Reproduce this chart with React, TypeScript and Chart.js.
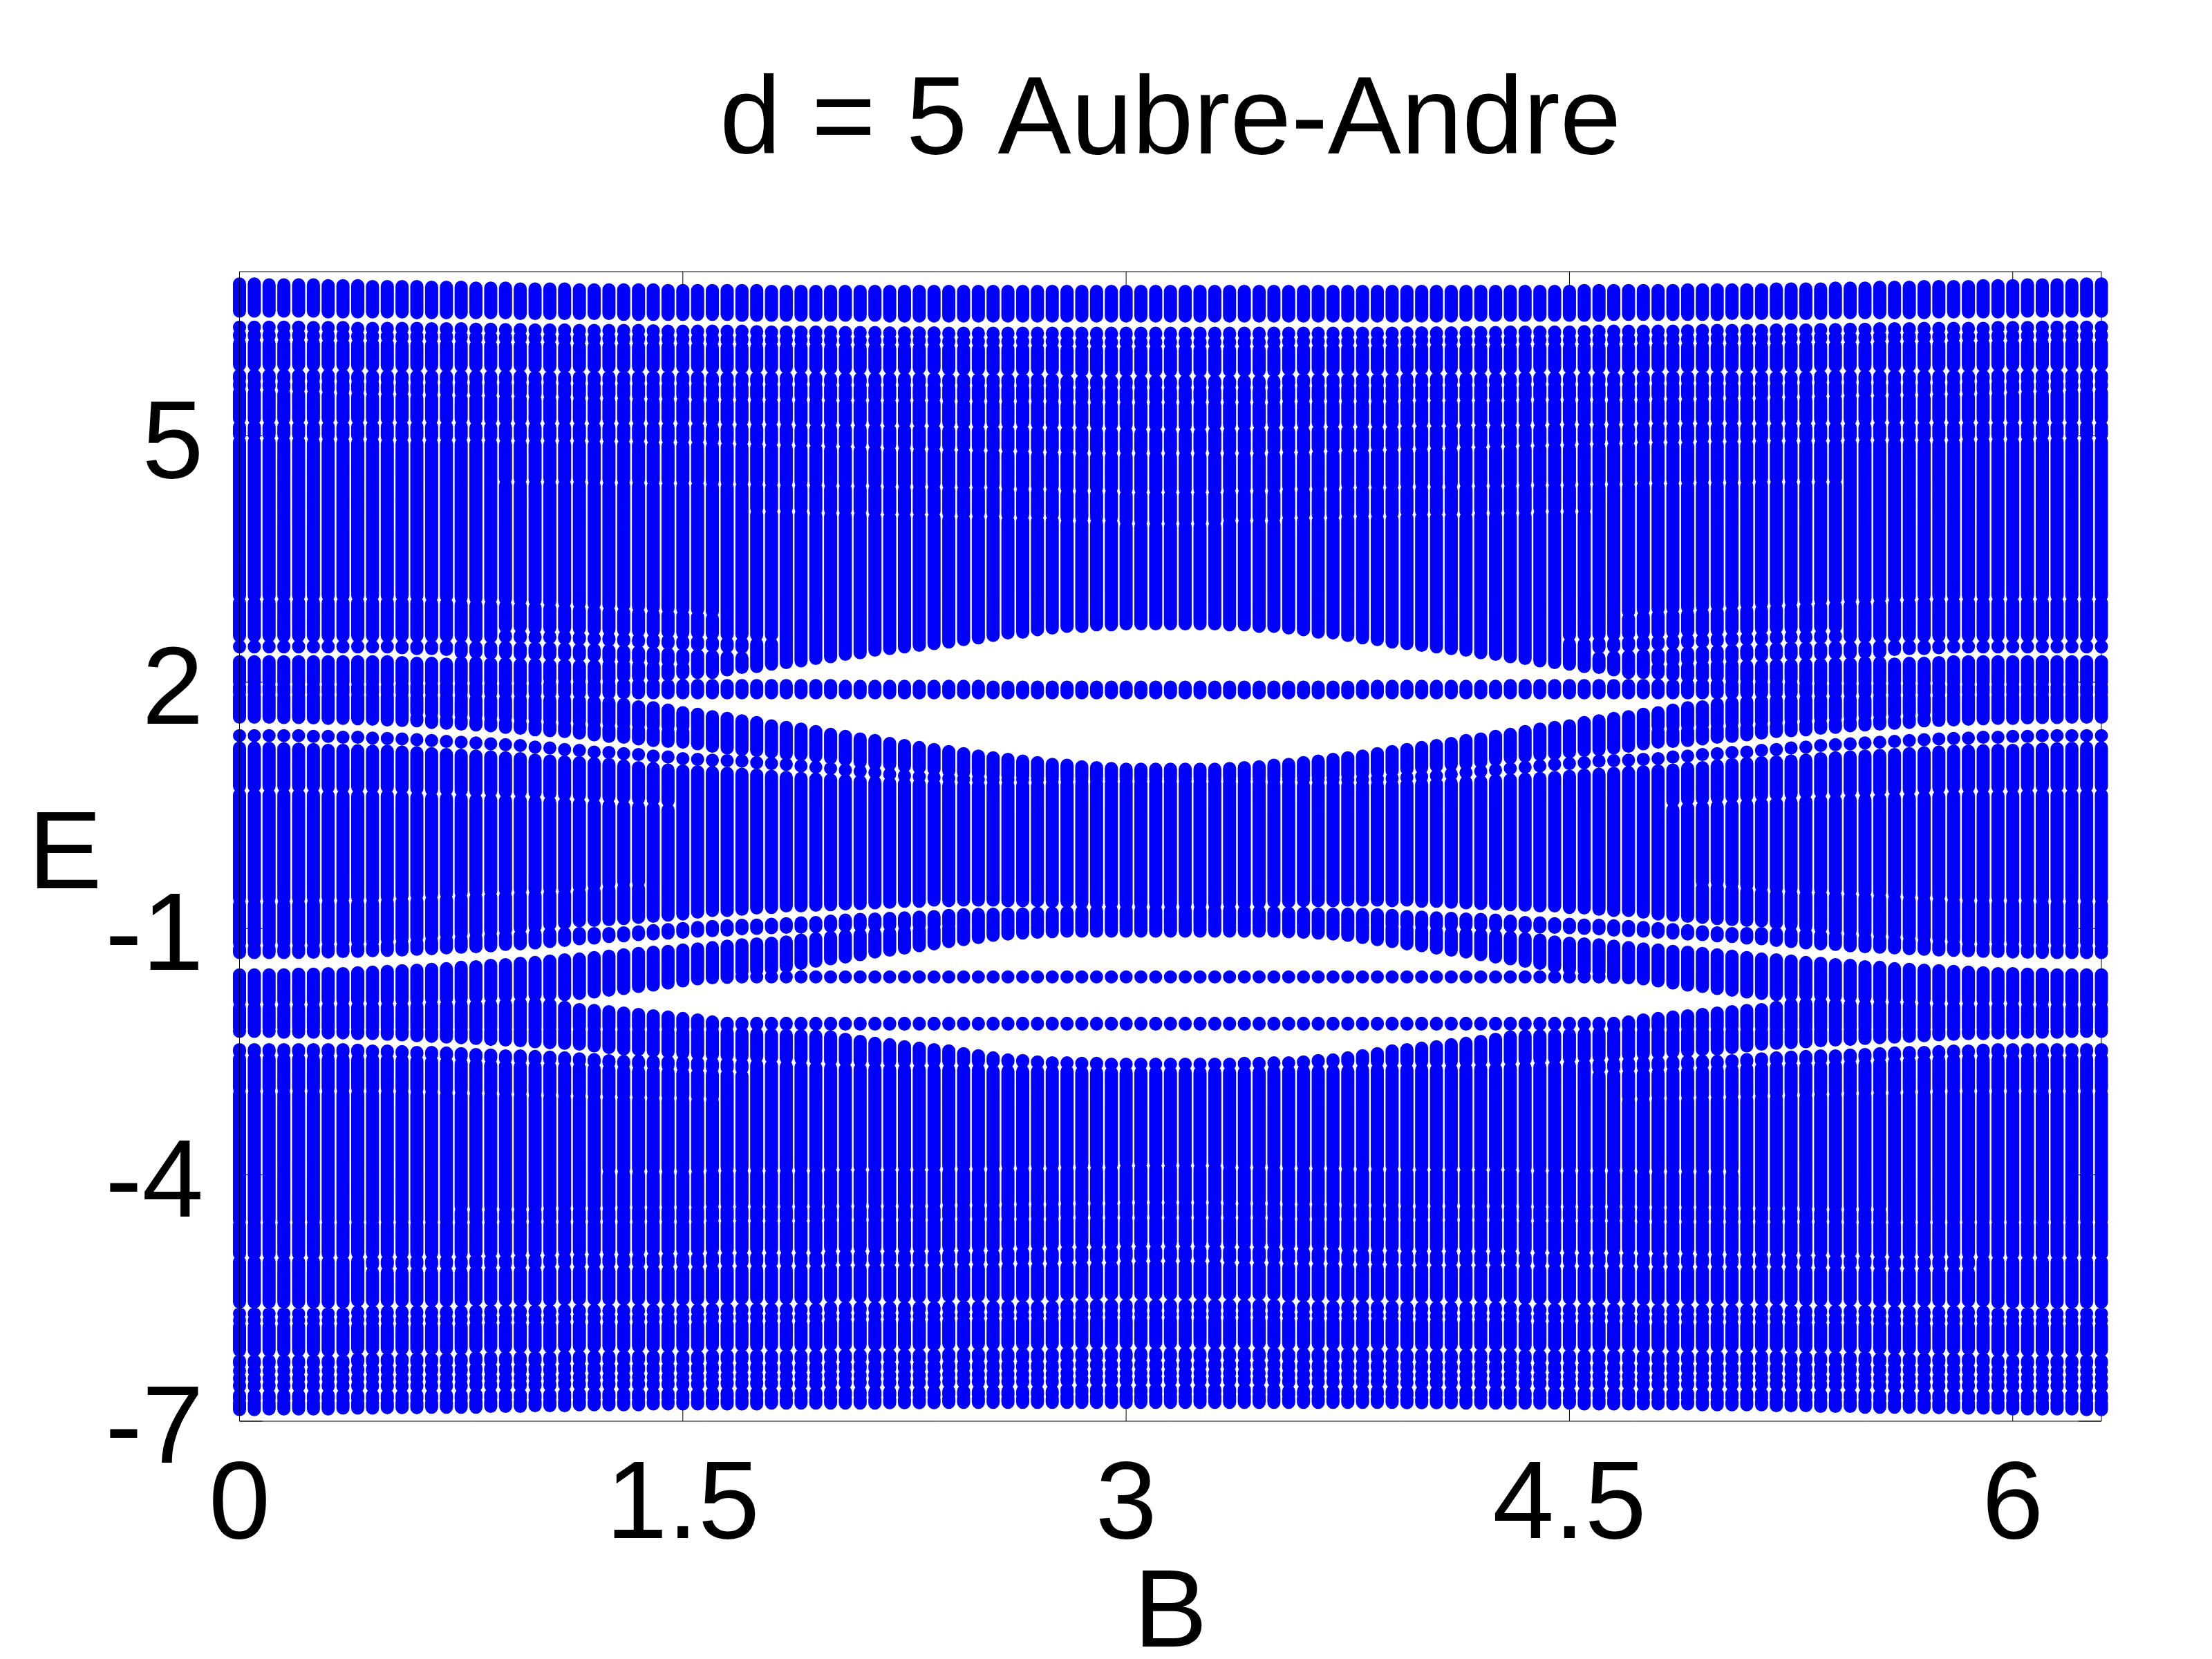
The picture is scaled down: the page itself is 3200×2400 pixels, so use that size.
import React, { useEffect, useRef } from "react";
import { Chart, registerables } from "chart.js";

Chart.register(...registerables);

const chartTitle = "d = 5 Aubre-Andre";
const xLabel = "B";
const yLabel = "E";
const xTicks = [0, 1.5, 3, 4.5, 6];
const yTicks = [5, 2, -1, -4, -7];

const bValues = [
  0,.05,.1,.15,.2,.25,.3,.35,.4,.45,.5,.55,.6,.65,.7,.75,.8,.85,.9,.95,
  1,1.05,1.1,1.15,1.2,1.25,1.3,1.35,1.4,1.45,1.5,1.55,1.6,1.65,1.7,1.75,1.8,1.85,1.9,1.95,
  2,2.05,2.1,2.15,2.2,2.25,2.3,2.35,2.4,2.45,2.5,2.55,2.6,2.65,2.7,2.75,2.8,2.85,2.9,2.95,
  3,3.05,3.1,3.15,3.2,3.25,3.3,3.35,3.4,3.45,3.5,3.55,3.6,3.65,3.7,3.75,3.8,3.85,3.9,3.95,
  4,4.05,4.1,4.15,4.2,4.25,4.3,4.35,4.4,4.45,4.5,4.55,4.6,4.65,4.7,4.75,4.8,4.85,4.9,4.95,
  5,5.05,5.1,5.15,5.2,5.25,5.3,5.35,5.4,5.45,5.5,5.55,5.6,5.65,5.7,5.75,5.8,5.85,5.9,5.95,
  6,6.05,6.1,6.15,6.2,6.25,6.3,
];

// Energies for B = 0 ... 3.15 (the spectrum is mirrored about B = pi).
// Each array has 64 values, 16 per row. null: that feature is not visible in that column.
const _ = null;

const t1Top = [
  6.85,6.85,6.84,6.84,6.84,6.84,6.83,6.83,6.83,6.82,6.82,6.82,6.82,6.81,6.81,6.81,
  6.80,6.80,6.80,6.79,6.79,6.79,6.79,6.78,6.78,6.78,6.78,6.78,6.78,6.77,6.77,6.77,
  6.77,6.77,6.77,6.77,6.76,6.76,6.76,6.76,6.76,6.76,6.76,6.76,6.76,6.76,6.76,6.76,
  6.76,6.76,6.76,6.76,6.76,6.76,6.76,6.76,6.76,6.76,6.76,6.76,6.76,6.76,6.76,6.76,
];
const t1Bot = [
  6.52,6.52,6.52,6.52,6.52,6.52,6.51,6.51,6.51,6.51,6.51,6.51,6.50,6.50,6.50,6.50,
  6.50,6.50,6.50,6.49,6.49,6.49,6.49,6.49,6.49,6.49,6.48,6.48,6.48,6.48,6.48,6.48,
  6.48,6.48,6.47,6.47,6.47,6.47,6.47,6.47,6.47,6.47,6.47,6.47,6.46,6.46,6.46,6.46,
  6.46,6.46,6.46,6.46,6.46,6.46,6.46,6.46,6.46,6.46,6.46,6.46,6.46,6.46,6.46,6.46,
];
const t2Top = [
  6.32,6.32,6.32,6.32,6.32,6.32,6.32,6.32,6.31,6.31,6.31,6.31,6.31,6.30,6.30,6.30,
  6.30,6.30,6.29,6.29,6.29,6.29,6.29,6.28,6.28,6.28,6.28,6.28,6.28,6.27,6.27,6.27,
  6.27,6.27,6.27,6.27,6.26,6.26,6.26,6.26,6.26,6.26,6.26,6.26,6.25,6.25,6.25,6.25,
  6.25,6.25,6.25,6.25,6.25,6.25,6.25,6.25,6.25,6.25,6.25,6.25,6.25,6.25,6.25,6.25,
];
const n1 = [
  6.28,6.28,6.28,6.28,6.28,6.27,6.27,6.27,6.26,6.26,6.26,6.26,6.26,6.26,6.26,6.26,
  6.25,6.25,6.25,6.25,6.24,6.24,6.24,6.24,6.24,6.24,6.24,6.24,6.23,6.23,6.23,6.23,
  6.23,6.23,6.23,6.22,6.22,6.22,6.22,6.22,6.22,6.21,6.21,6.21,6.21,6.21,6.21,6.21,
  6.20,6.20,6.20,6.20,6.20,6.20,6.20,6.20,6.19,6.19,6.19,6.19,6.19,6.19,6.19,6.19,
];
const n2 = [
  6.17,6.17,6.17,6.17,6.17,6.17,6.16,6.16,6.16,6.16,6.16,6.15,6.15,6.15,6.15,6.15,
  6.14,6.14,6.14,6.14,6.14,6.14,6.13,6.13,6.13,6.13,6.13,6.13,6.13,6.13,6.13,6.13,
  6.12,6.12,6.12,6.12,6.12,6.12,6.12,6.12,6.11,6.11,6.11,6.11,6.11,6.11,6.11,6.11,
  6.10,6.10,6.10,6.10,6.10,6.10,6.10,6.10,6.09,6.09,6.09,6.09,6.09,6.09,6.09,6.09,
];
const n3 = [
  5.80,5.80,5.80,5.80,5.80,5.80,5.80,5.80,5.79,5.79,5.79,5.79,5.79,5.79,5.79,5.79,
  5.79,5.79,5.79,5.79,5.78,5.78,5.78,5.78,5.78,5.78,5.78,5.78,5.78,5.78,5.78,5.78,
  5.77,5.77,5.77,5.77,5.77,5.77,5.77,5.77,5.76,5.76,5.76,5.76,5.76,5.76,5.76,5.76,
  5.75,5.75,5.75,5.75,5.75,5.75,5.75,5.75,5.73,5.73,5.73,5.73,5.73,5.73,5.73,5.73,
];
const n4 = [
  5.66,5.66,5.66,5.66,5.66,5.66,5.66,5.66,5.66,5.66,5.65,5.65,5.65,5.65,5.65,5.65,
  5.65,5.65,5.65,5.65,5.65,5.65,5.64,5.64,5.64,5.64,5.64,5.64,5.64,5.64,5.64,5.64,
  5.63,5.63,5.63,5.63,5.63,5.63,5.63,5.63,5.62,5.62,5.62,5.62,5.62,5.62,5.62,5.62,
  5.61,5.61,5.61,5.61,5.61,5.61,5.61,5.61,5.59,5.59,5.59,5.59,5.59,5.59,5.59,5.59,
];
const n5 = [
  5.57,5.56,5.56,5.55,5.54,5.54,5.53,5.52,5.52,5.51,5.51,5.51,5.50,5.50,5.50,5.49,
  5.49,5.49,5.48,5.48,5.47,5.47,5.47,5.46,5.46,5.46,5.46,5.45,5.45,5.45,5.45,5.44,
  5.44,5.44,5.44,5.44,5.44,5.44,5.44,5.44,5.43,5.43,5.43,5.43,5.43,5.43,5.43,5.43,
  5.42,5.42,5.42,5.42,5.42,5.42,5.42,5.42,5.41,5.41,5.41,5.41,5.41,5.41,5.41,5.41,
];
const n6 = [
  5.16,5.16,5.16,5.16,5.16,5.16,5.16,5.16,5.16,5.16,5.16,5.16,5.16,5.16,5.16,5.16,
  5.15,5.15,5.15,5.15,5.15,5.15,5.15,5.15,5.15,5.15,5.15,5.15,5.15,5.15,5.15,5.15,
  5.14,5.14,5.14,5.14,5.14,5.14,5.13,5.13,5.13,5.13,5.13,5.13,5.12,5.12,5.12,5.12,
  5.11,5.11,5.11,5.11,5.11,5.11,5.10,5.10,5.10,5.10,5.09,5.09,5.09,5.08,5.08,5.08,
];
const n7 = [
  4.97,4.97,4.97,4.97,4.97,4.96,4.96,4.96,4.96,4.96,4.95,4.95,4.95,4.95,4.95,4.95,
  4.95,4.95,4.94,4.94,4.94,4.94,4.94,4.94,4.93,4.93,4.93,4.93,4.92,4.92,4.92,4.92,
  4.91,4.91,4.90,4.90,4.89,4.89,4.88,4.88,4.87,4.87,4.86,4.86,4.85,4.85,4.84,4.84,
  4.83,4.83,4.82,4.82,4.81,4.81,4.80,4.80,4.80,4.79,4.79,4.79,4.79,4.79,4.79,4.79,
];
const n8 = [
  _,_,_,_,_,_,_,_,_,_,_,_,_,_,_,_,
  _,_,4.44,4.44,4.44,4.44,4.44,4.44,4.43,4.43,4.43,4.43,4.42,4.42,4.42,4.42,
  4.41,4.41,4.41,4.41,4.40,4.40,4.40,4.40,4.39,4.39,4.39,4.39,4.38,4.38,4.38,4.38,
  4.37,4.37,4.37,4.37,4.35,4.35,4.35,4.35,4.33,4.33,4.33,4.33,4.31,4.31,4.31,4.31,
];
const n9 = [
  _,_,_,_,_,_,_,_,_,_,_,_,_,_,_,_,
  _,_,_,_,_,_,_,_,_,_,_,_,_,_,_,_,
  _,_,_,4.08,4.08,4.08,4.08,4.06,4.06,4.06,4.06,4.04,4.04,4.04,4.04,4.04,
  4.02,4.02,4.02,4.02,4.00,4.00,4.00,4.00,3.97,3.97,3.97,3.97,3.93,3.93,3.93,3.93,
];
const n10 = [
  3.01,3.01,3.01,3.01,3.01,3.01,3.01,3.01,3.01,3.01,3.01,3.01,3.01,3.00,3.00,2.99,
  2.98,2.98,2.97,2.96,2.95,2.94,2.93,2.92,2.91,2.90,2.89,2.88,2.87,2.86,2.85,2.84,
  2.82,_,_,_,_,_,_,_,_,_,_,_,_,_,_,_,
  _,_,_,_,_,_,_,_,_,_,_,_,_,_,_,_,
];
const n10b = [
  _,_,_,_,_,_,_,_,_,_,_,_,_,_,_,_,
  _,_,2.62,2.62,2.61,2.61,2.61,2.60,2.59,2.59,2.58,2.57,2.57,2.56,2.55,2.55,
  2.54,2.53,2.53,2.52,2.52,_,_,_,_,_,_,_,_,_,_,_,
  _,_,_,_,_,_,_,_,_,_,_,_,_,_,_,_,
];
const n11 = [
  2.50,2.50,2.50,2.50,2.50,2.50,2.50,2.50,2.50,2.50,2.50,2.50,2.50,2.50,2.50,2.50,
  2.49,2.49,2.49,2.48,2.48,2.48,2.47,2.46,2.46,2.45,2.44,2.43,2.42,2.41,2.40,2.39,
  2.38,2.37,2.36,_,_,_,_,_,_,_,_,_,_,_,_,_,
  _,_,_,_,_,_,_,_,_,_,_,_,_,_,_,_,
];
const n12 = [
  2.34,2.34,2.34,2.34,2.34,2.34,2.34,2.34,2.34,2.34,2.34,2.33,2.32,2.32,2.31,_,
  _,_,_,_,_,_,_,_,_,_,_,_,_,_,_,_,
  _,_,_,_,_,_,_,_,_,_,_,_,_,_,_,_,
  _,_,_,_,_,_,_,_,_,_,_,_,_,_,_,_,
];
const n12m = [
  _,_,_,_,_,_,_,_,_,_,_,_,_,_,_,2.30,
  2.30,2.29,2.29,2.28,2.28,2.27,2.27,2.26,2.26,_,_,_,_,_,_,_,
  _,_,_,_,_,_,_,_,_,_,_,_,_,_,_,_,
  _,_,_,_,_,_,_,_,_,_,_,_,_,_,_,_,
];
const n12b = [
  _,_,_,_,_,_,_,_,_,_,_,_,_,_,_,_,
  _,_,_,_,_,_,_,_,_,2.25,2.25,2.24,2.23,2.22,2.22,_,
  _,_,_,_,_,_,_,_,_,_,_,_,_,_,_,_,
  _,_,_,_,_,_,_,_,_,_,_,_,_,_,_,_,
];
const g1Bot = [
  2.00,2.00,2.00,2.00,2.00,2.00,2.00,2.00,2.00,2.00,2.00,2.01,2.01,2.01,2.01,2.01,
  2.01,2.01,2.01,2.01,2.01,2.04,2.04,2.04,2.04,2.04,2.07,2.07,2.07,2.09,2.11,2.12,
  2.12,2.15,2.18,2.19,2.22,2.24,2.26,2.29,2.31,2.34,2.36,2.39,2.41,2.43,2.45,2.47,
  2.49,2.52,2.54,2.57,2.60,2.61,2.64,2.66,2.68,2.68,2.70,2.70,2.71,2.71,2.71,2.71,
];
const lobeTop = [
  1.95,1.95,1.95,1.95,1.95,1.95,1.95,1.95,1.95,1.95,1.95,1.96,1.96,1.96,1.96,1.96,
  1.96,1.96,1.96,1.96,1.96,1.97,1.97,1.97,1.97,1.97,1.97,1.97,1.97,1.96,1.96,1.96,
  1.96,1.96,1.96,1.96,1.96,1.96,1.96,1.96,1.96,1.95,1.95,1.95,1.95,1.95,1.95,1.95,
  1.95,1.95,1.95,1.94,1.94,1.94,1.94,1.94,1.94,1.94,1.94,1.94,1.94,1.94,1.94,1.94,
];
const lobeBot = [
  1.87,1.87,1.87,1.87,1.87,1.87,1.87,1.87,1.87,1.87,1.87,1.87,1.87,1.87,1.87,1.87,
  1.87,1.87,1.87,1.87,1.87,1.87,1.87,1.87,1.87,1.87,1.87,1.87,1.87,1.87,1.87,1.87,
  1.87,1.87,1.87,1.87,1.87,1.87,1.87,1.87,1.87,1.87,1.87,1.87,1.87,1.87,1.87,1.87,
  1.87,1.87,1.87,1.87,1.87,1.87,1.87,1.87,1.87,1.87,1.87,1.87,1.87,1.87,1.87,1.87,
];
const c3Top = [
  1.82,1.82,1.82,1.82,1.82,1.82,1.82,1.82,1.82,1.82,1.82,1.81,1.81,1.81,1.81,1.81,
  1.79,1.79,1.79,1.79,1.79,1.78,1.78,1.77,1.76,1.75,1.73,1.70,1.69,1.66,1.63,1.61,
  1.58,1.56,1.53,1.51,1.47,1.45,1.43,1.40,1.365,1.34,1.31,1.29,1.255,1.23,1.205,1.18,
  1.155,1.13,1.10,1.08,1.06,1.04,1.02,1.00,.99,.97,.96,.95,.94,.94,.94,.94,
];
const n14 = [
  _,_,_,_,_,_,_,_,_,_,_,_,1.60,1.59,1.58,1.57,
  1.56,1.55,1.54,1.53,1.52,1.51,1.50,1.49,1.48,1.47,1.46,1.45,1.44,1.43,1.43,_,
  _,_,_,_,_,_,_,_,_,_,_,_,_,_,_,_,
  _,_,_,_,_,_,_,_,_,_,_,_,_,_,_,_,
];
const eA = [
  1.575,1.575,1.575,1.57,1.57,1.565,1.56,1.56,1.555,1.55,1.54,1.535,1.53,1.51,1.50,1.49,
  1.48,1.47,1.45,1.44,1.42,1.41,1.40,1.38,1.36,1.34,1.33,1.31,1.29,1.28,1.27,1.25,
  1.22,1.20,1.18,1.17,1.15,1.13,1.12,1.10,1.08,1.06,1.03,1.01,1.00,.98,.96,.94,
  .92,.905,.89,.87,.86,.855,.85,.84,.84,.84,.84,.84,.84,.84,.84,.84,
];
const eB = [
  1.35,1.35,1.35,1.35,1.35,1.34,1.34,1.33,1.33,1.32,1.315,1.31,1.30,1.29,1.28,1.27,
  1.26,1.25,1.24,1.23,1.21,1.20,1.18,1.17,1.15,1.145,1.13,1.12,1.10,1.09,1.07,1.06,
  1.05,1.045,1.04,1.02,1.01,1.00,.98,.965,.95,.93,.915,.90,.88,.86,.85,.84,
  .83,.82,.815,.815,.815,.815,.815,.815,.815,.815,.815,.815,.815,.815,.815,.815,
];
const eC = [
  1.20,1.20,1.195,1.19,1.185,1.18,1.17,1.17,1.165,1.16,1.16,1.15,1.14,1.13,1.12,1.11,
  1.10,1.09,1.08,1.07,1.05,1.04,1.03,1.02,1.01,1.00,.98,.96,.95,.93,.92,.91,
  .90,.89,.88,.87,.855,.84,.83,.82,.81,.80,.79,.78,.77,.76,.755,.75,
  .745,.74,.735,.74,.74,.74,.74,.75,.75,.76,.76,.77,.77,.77,.77,.77,
];
const n15 = [
  .68,.68,.68,.68,.68,.68,.67,.67,.67,.67,.67,.66,.65,.64,.64,.63,
  .62,.62,.61,.61,.60,.59,.58,.57,.56,.55,.54,.53,.52,.50,_,_,
  _,_,_,_,_,_,_,_,_,_,_,_,_,_,_,_,
  _,_,_,_,_,_,_,_,_,_,_,_,_,_,_,_,
];
const n18 = [
  -.67,-.67,-.67,-.67,-.67,-.66,-.66,-.66,-.66,-.66,-.65,-.64,-.63,-.62,-.61,-.60,
  -.59,-.58,-.57,-.56,-.56,-.55,-.55,-.53,-.51,-.49,-.47,-.47,_,_,_,_,
  _,_,_,_,_,_,_,_,_,_,_,_,_,_,_,_,
  _,_,_,_,_,_,_,_,_,_,_,_,_,_,_,_,
];
const stemEnd = [
  -1.178,-1.17,-1.17,-1.17,-1.17,-1.17,-1.153,-1.153,-1.153,-1.153,-1.127,-1.119,-1.102,-1.085,-1.068,-1.06,
  -1.043,-1.026,-1.018,-.992,-.975,-.95,-.933,-.906,-.90,-.891,-.877,-.864,-.85,-.835,-.822,-.80,
  -.78,-.78,-.765,-.75,-.743,-.724,-.724,-.715,-.71,-.70,-.695,-.687,-.68,-.667,-.667,-.653,
  -.66,-.653,-.652,-.652,-.66,-.66,-.66,-.67,-.67,-.68,-.69,-.69,-.695,-.695,-.695,-.695,
];
const circleTop = [
  -1.253,-1.245,-1.245,-1.245,-1.245,-1.245,-1.228,-1.228,-1.228,-1.228,-1.203,-1.195,-1.178,-1.161,-1.144,-1.136,
  -1.119,-1.102,-1.094,-1.085,-1.068,-1.06,-1.06,-1.06,-1.06,-1.06,-1.052,-1.04,-1.026,-1.012,-1.0,-.987,
  -.975,-.967,-.96,-.958,-.948,-.94,-.93,-.925,-.91,-.897,-.888,-.883,-.875,-.87,-.86,-.855,
  -.84,-.832,-.828,-.826,-.825,-.822,-.815,-.813,-.803,-.795,-.786,-.778,-.778,-.778,-.778,-.778,
];
const eAp = [
  -1.293,-1.293,-1.293,-1.293,-1.29,-1.288,-1.285,-1.28,-1.277,-1.27,-1.265,-1.26,-1.253,-1.245,-1.236,-1.228,
  -1.22,-1.211,-1.194,-1.186,-1.175,-1.158,-1.144,-1.124,-1.116,-1.096,-1.088,-1.074,-1.066,-1.054,-1.045,-1.032,
  -1.026,-1.018,-1.003,-.998,-.99,-.984,-.98,-.975,-.971,-.967,-.963,-.96,-.957,-.955,-.955,-.955,
  -.955,-.955,-.955,-.955,-.955,-.955,-.955,-.955,-.955,-.955,-.955,-.955,-.955,-.955,-.955,-.955,
];
const eBp = [
  -1.564,-1.564,-1.564,-1.564,-1.556,-1.556,-1.548,-1.548,-1.539,-1.531,-1.522,-1.514,-1.506,-1.497,-1.489,-1.472,
  -1.464,-1.447,-1.439,-1.422,-1.413,-1.396,-1.38,-1.371,-1.354,-1.337,-1.32,-1.303,-1.287,-1.278,-1.261,-1.248,
  -1.232,-1.215,-1.198,-1.186,-1.178,-1.163,-1.14,-1.123,-1.106,-1.089,-1.077,-1.064,-1.056,-1.039,-1.022,-1.005,
  -.988,-.971,-.971,-.971,-.971,-.971,-.971,-.971,-.971,-.971,-.971,-.971,-.971,-.971,-.971,-.971,
];
const gZUp = [
  -1.73,-1.73,-1.73,-1.73,-1.73,-1.73,-1.73,-1.73,-1.73,-1.73,-1.73,-1.73,-1.73,-1.73,-1.73,-1.73,
  -1.73,-1.73,-1.73,-1.73,-1.73,-1.645,-1.645,-1.645,-1.645,-1.645,-1.645,-1.645,-1.645,-1.476,-1.476,-1.476,
  -1.476,-1.476,-1.527,-1.51,-1.493,-1.46,-1.424,-1.397,-1.369,-1.346,-1.318,-1.285,-1.262,-1.237,-1.209,-1.186,
  -1.158,-1.135,-1.11,-1.082,-1.066,-1.054,-1.045,-1.037,-1.032,-1.032,-1.032,-1.032,-1.032,-1.032,-1.032,-1.032,
];
const gZDown = [
  -1.73,-1.73,-1.73,-1.73,-1.73,-1.73,-1.73,-1.73,-1.73,-1.73,-1.73,-1.73,-1.73,-1.73,-1.73,-1.73,
  -1.73,-1.73,-1.73,-1.73,-1.73,-1.645,-1.645,-1.645,-1.645,-1.645,-1.645,-1.645,-1.645,-1.476,-1.476,-1.476,
  -1.476,-1.476,-1.589,-1.589,-1.589,-1.589,-1.589,-1.589,-1.589,-1.589,-1.589,-1.589,-1.589,-1.589,-1.589,-1.589,
  -1.589,-1.589,-1.589,-1.589,-1.589,-1.589,-1.589,-1.589,-1.589,-1.589,-1.589,-1.589,-1.589,-1.589,-1.589,-1.589,
];
const gNUp = [
  -1.881,-1.881,-1.881,-1.881,-1.881,-1.881,-1.872,-1.872,-1.872,-1.872,-1.872,-1.872,-1.864,-1.855,-1.855,-1.847,
  -1.838,-1.83,-1.822,-1.813,-1.809,-1.805,-1.803,-1.79,-1.773,-1.75,-1.73,-1.705,-1.688,-1.663,-1.638,-1.613,
  -1.60,-1.593,-1.589,-1.589,-1.589,-1.589,-1.589,-1.589,-1.589,-1.589,-1.589,-1.589,-1.589,-1.589,-1.589,-1.589,
  -1.589,-1.589,-1.589,-1.589,-1.589,-1.589,-1.589,-1.589,-1.589,-1.589,-1.589,-1.589,-1.589,-1.589,-1.589,-1.589,
];
const gNLow = [
  -1.965,-1.965,-1.965,-1.965,-1.965,-1.965,-1.956,-1.956,-1.956,-1.956,-1.956,-1.956,-1.948,-1.939,-1.939,-1.931,
  -1.939,-1.931,-1.923,-1.91,-1.915,-1.925,-1.96,-1.986,-1.998,-2.011,-2.028,-2.045,-2.062,-2.078,-2.095,-2.112,
  -2.137,-2.154,-2.154,-2.154,-2.154,-2.154,-2.154,-2.154,-2.154,-2.154,-2.154,-2.154,-2.154,-2.154,-2.154,-2.154,
  -2.154,-2.154,-2.154,-2.154,-2.154,-2.154,-2.154,-2.154,-2.154,-2.154,-2.154,-2.154,-2.154,-2.154,-2.154,-2.154,
];
const eK = [
  -2.209,-2.209,-2.209,-2.209,-2.209,-2.209,-2.209,-2.209,-2.209,-2.209,-2.209,-2.209,-2.209,-2.209,-2.209,-2.209,
  -2.209,-2.209,-2.209,-2.209,-2.209,-2.209,-2.209,-2.20,-2.20,-2.20,-2.20,-2.20,-2.20,-2.20,-2.20,-2.20,
  -2.192,-2.183,-2.167,-2.163,-2.163,-2.163,-2.163,-2.163,-2.163,-2.163,-2.163,-2.163,-2.163,-2.163,-2.163,-2.163,
  -2.163,-2.163,-2.163,-2.163,-2.163,-2.163,-2.163,-2.163,-2.163,-2.163,-2.163,-2.163,-2.163,-2.163,-2.163,-2.163,
];
const eM = [
  -2.242,-2.242,-2.242,-2.242,-2.242,-2.242,-2.242,-2.242,-2.242,-2.242,-2.242,-2.242,-2.242,-2.242,-2.242,-2.242,
  -2.242,-2.242,-2.242,-2.242,-2.242,-2.242,-2.242,-2.251,-2.251,-2.251,-2.251,-2.251,-2.251,-2.259,-2.259,-2.259,
  -2.259,-2.268,-2.276,-2.285,-2.293,-2.301,-2.306,-2.31,-2.32,-2.348,-2.373,-2.398,-2.415,-2.44,-2.457,-2.474,
  -2.49,-2.524,-2.549,-2.575,-2.60,-2.608,-2.625,-2.634,-2.636,-2.642,-2.642,-2.651,-2.651,-2.651,-2.651,-2.651,
];
const eC2 = [
  -2.253,-2.253,-2.253,-2.262,-2.262,-2.262,-2.27,-2.27,-2.279,-2.279,-2.287,-2.295,-2.304,-2.312,-2.321,-2.329,
  -2.339,-2.35,-2.358,-2.365,-2.379,-2.39,-2.398,-2.407,-2.428,-2.449,-2.467,-2.474,-2.487,-2.50,-2.512,-2.525,
  -2.537,-2.545,-2.554,-2.562,-2.571,-2.579,-2.587,-2.596,-2.604,-2.608,-2.612,-2.617,-2.621,-2.621,-2.621,-2.621,
  -2.621,-2.621,-2.621,-2.621,-2.621,-2.621,-2.63,-2.638,-2.638,-2.646,-2.651,-2.651,-2.651,-2.651,-2.651,-2.651,
];
const eD2 = [
  -2.474,-2.474,-2.474,-2.474,-2.474,-2.474,-2.474,-2.474,-2.482,-2.491,-2.491,-2.499,-2.508,-2.508,-2.516,-2.524,
  -2.533,-2.541,-2.55,-2.55,-2.558,-2.566,-2.575,-2.586,-2.596,-2.609,-2.619,-2.617,-2.621,-2.625,-2.629,-2.634,
  -2.638,-2.646,-2.654,-2.663,-2.671,-2.68,-2.688,-2.697,-2.705,-2.713,-2.713,-2.713,-2.722,-2.722,-2.722,-2.722,
  -2.722,-2.722,-2.722,-2.739,-2.739,-2.739,-2.739,-2.739,-2.739,-2.755,-2.755,-2.755,-2.755,-2.755,-2.755,-2.755,
];
const l1527 = [
  -2.545,-2.545,-2.545,-2.545,-2.545,-2.55,-2.55,-2.55,-2.55,-2.55,-2.555,-2.56,-2.57,-2.58,-2.59,-2.60,
  -2.61,-2.62,-2.63,-2.635,-2.64,-2.64,-2.645,-2.655,-2.665,-2.675,-2.685,-2.695,-2.70,-2.71,-2.72,-2.73,
  -2.735,-2.74,-2.75,_,_,_,_,_,_,_,_,_,_,_,_,_,
  _,_,_,_,_,_,_,_,_,_,_,_,_,_,_,_,
];
const l1578 = [
  -2.98,-2.98,-2.98,-2.98,-2.98,-2.98,-2.98,-2.98,-2.98,-2.98,-2.98,-2.985,-2.99,-2.99,-3.00,-3.00,
  -3.01,-3.01,-3.02,-3.02,-3.03,-3.03,-3.04,-3.04,-3.05,-3.05,-3.06,-3.06,-3.065,-3.07,-3.07,-3.075,
  -3.08,_,_,_,_,_,_,_,_,_,_,_,_,_,_,_,
  _,_,_,_,_,_,_,_,_,_,_,_,_,_,_,_,
];
const l1687 = [
  _,_,_,_,_,_,_,_,_,_,_,_,_,_,_,_,
  _,_,_,_,_,_,_,_,_,-3.96,-3.96,-3.96,-3.96,-3.96,-3.96,-3.96,
  -3.95,-3.95,-3.95,-3.95,-3.95,-3.95,-3.95,-3.95,-3.94,-3.94,-3.94,-3.94,-3.94,-3.94,-3.94,-3.94,
  -3.93,-3.93,-3.93,-3.93,-3.92,-3.92,-3.92,-3.92,-3.91,-3.91,-3.91,-3.91,-3.89,-3.89,-3.89,-3.89,
];
const l1740 = [
  _,_,_,_,_,_,_,_,_,_,_,_,_,_,_,-4.42,
  -4.42,-4.42,-4.42,-4.42,-4.42,-4.41,-4.41,-4.41,-4.41,-4.41,-4.40,-4.40,-4.40,-4.40,-4.40,-4.40,
  -4.39,-4.39,-4.39,-4.39,-4.39,-4.39,-4.39,-4.39,-4.38,-4.38,-4.38,-4.38,-4.38,-4.38,-4.38,-4.38,
  -4.37,-4.37,-4.37,-4.37,-4.36,-4.36,-4.36,-4.36,-4.35,-4.35,-4.35,-4.35,-4.34,-4.34,-4.34,-4.34,
];
const l1769 = [
  -4.58,-4.58,-4.58,-4.58,-4.58,-4.58,-4.58,-4.58,-4.58,-4.58,-4.58,-4.58,-4.58,-4.58,-4.58,-4.58,
  -4.58,-4.58,-4.57,-4.57,-4.57,-4.57,-4.57,-4.57,-4.57,-4.57,-4.57,-4.57,-4.57,-4.57,-4.57,-4.57,
  -4.56,-4.56,-4.56,-4.56,-4.56,-4.56,-4.56,-4.56,-4.55,-4.55,-4.55,-4.55,-4.55,-4.55,-4.55,-4.55,
  -4.54,-4.54,-4.54,-4.54,-4.54,-4.54,-4.54,-4.54,-4.52,-4.52,-4.52,-4.52,-4.52,-4.52,-4.52,-4.52,
];
const l1820 = [
  -5.01,-5.01,-5.01,-5.01,-5.01,-5.01,-5.01,-5.01,-5.00,-5.00,-5.00,-5.00,-5.00,-5.00,-5.00,-5.00,
  -4.99,-4.99,-4.99,-4.98,-4.98,-4.98,-4.97,-4.97,-4.97,-4.97,-4.97,-4.97,-4.96,-4.96,-4.96,-4.96,
  -4.95,-4.95,-4.95,-4.95,-4.95,-4.95,-4.95,-4.95,-4.93,-4.93,-4.93,-4.93,-4.93,-4.93,-4.93,-4.93,
  -4.92,-4.92,-4.92,-4.92,-4.90,-4.90,-4.90,-4.90,-4.88,-4.88,-4.88,-4.88,-4.87,-4.87,-4.87,-4.87,
];
const l1835 = [
  _,_,_,_,_,_,_,_,_,-5.14,-5.14,-5.14,-5.14,-5.14,-5.14,-5.14,
  -5.13,-5.13,-5.13,-5.13,-5.13,-5.12,-5.12,-5.12,-5.12,-5.12,-5.12,-5.12,-5.12,-5.12,-5.12,-5.12,
  -5.11,-5.11,-5.11,-5.11,-5.11,-5.11,-5.11,-5.11,-5.10,-5.10,-5.10,-5.10,-5.10,-5.10,-5.10,-5.10,
  -5.09,-5.09,-5.09,-5.09,-5.08,-5.08,-5.08,-5.08,-5.07,-5.07,-5.07,-5.07,-5.05,-5.05,-5.05,-5.05,
];
const b1 = [
  -5.62,-5.62,-5.62,-5.62,-5.62,-5.62,-5.62,-5.62,-5.60,-5.60,-5.60,-5.60,-5.60,-5.60,-5.60,-5.60,
  -5.59,-5.59,-5.59,-5.59,-5.59,-5.59,-5.58,-5.58,-5.58,-5.58,-5.58,-5.58,-5.58,-5.58,-5.58,-5.58,
  -5.57,-5.57,-5.57,-5.57,-5.57,-5.57,-5.57,-5.57,-5.55,-5.55,-5.55,-5.55,-5.55,-5.55,-5.55,-5.55,
  -5.54,-5.54,-5.54,-5.54,-5.54,-5.54,-5.54,-5.54,-5.52,-5.52,-5.52,-5.52,-5.52,-5.52,-5.52,-5.52,
];
const b2 = [
  -5.73,-5.73,-5.73,-5.73,-5.73,-5.73,-5.73,-5.73,-5.72,-5.72,-5.72,-5.72,-5.72,-5.72,-5.72,-5.72,
  -5.71,-5.71,-5.71,-5.71,-5.71,-5.71,-5.70,-5.70,-5.70,-5.70,-5.70,-5.70,-5.70,-5.70,-5.70,-5.70,
  -5.69,-5.69,-5.69,-5.69,-5.69,-5.69,-5.69,-5.69,-5.68,-5.68,-5.68,-5.68,-5.68,-5.68,-5.68,-5.68,
  -5.67,-5.67,-5.67,-5.67,-5.67,-5.67,-5.67,-5.67,-5.66,-5.66,-5.66,-5.66,-5.66,-5.66,-5.66,-5.66,
];
const b3 = [
  -5.81,-5.81,-5.81,-5.81,-5.81,-5.81,-5.81,-5.81,-5.81,-5.81,-5.81,-5.81,-5.81,-5.81,-5.81,-5.81,
  -5.80,-5.80,-5.80,-5.80,-5.80,-5.80,-5.79,-5.79,-5.79,-5.79,-5.79,-5.79,-5.79,-5.79,-5.79,-5.79,
  -5.78,-5.78,-5.78,-5.78,-5.78,-5.78,-5.78,-5.78,-5.76,-5.76,-5.76,-5.76,-5.76,-5.76,-5.76,-5.76,
  -5.75,-5.75,-5.75,-5.75,-5.75,-5.75,-5.75,-5.75,-5.73,-5.73,-5.73,-5.73,-5.73,-5.73,-5.73,-5.73,
];
const b4 = [
  -6.20,-6.20,-6.20,-6.20,-6.20,-6.20,-6.20,-6.20,-6.18,-6.18,-6.18,-6.18,-6.18,-6.18,-6.18,-6.18,
  -6.16,-6.16,-6.16,-6.16,-6.16,-6.16,-6.15,-6.15,-6.15,-6.15,-6.15,-6.15,-6.15,-6.15,-6.15,-6.15,
  -6.14,-6.14,-6.14,-6.14,-6.14,-6.14,-6.14,-6.14,-6.13,-6.13,-6.13,-6.13,-6.13,-6.13,-6.13,-6.13,
  -6.12,-6.12,-6.12,-6.12,-6.12,-6.12,-6.12,-6.12,-6.11,-6.11,-6.11,-6.11,-6.11,-6.11,-6.11,-6.11,
];
const b5 = [
  -6.34,-6.34,-6.34,-6.34,-6.34,-6.34,-6.34,-6.34,-6.32,-6.32,-6.32,-6.32,-6.32,-6.32,-6.32,-6.32,
  -6.31,-6.31,-6.31,-6.31,-6.31,-6.31,-6.30,-6.30,-6.30,-6.30,-6.30,-6.30,-6.30,-6.30,-6.30,-6.30,
  -6.29,-6.29,-6.29,-6.29,-6.29,-6.29,-6.29,-6.29,-6.28,-6.28,-6.28,-6.28,-6.28,-6.28,-6.28,-6.28,
  -6.27,-6.27,-6.27,-6.27,-6.27,-6.27,-6.27,-6.27,-6.26,-6.26,-6.26,-6.26,-6.26,-6.26,-6.26,-6.26,
];
const b6 = [
  -6.43,-6.43,-6.43,-6.43,-6.43,-6.43,-6.43,-6.43,-6.43,-6.43,-6.43,-6.43,-6.43,-6.43,-6.43,-6.43,
  -6.43,-6.43,-6.43,-6.43,-6.43,-6.43,-6.42,-6.42,-6.42,-6.42,-6.42,-6.42,-6.42,-6.42,-6.42,-6.42,
  -6.41,-6.41,-6.41,-6.41,-6.41,-6.41,-6.41,-6.41,-6.40,-6.40,-6.40,-6.40,-6.40,-6.40,-6.40,-6.40,
  -6.39,-6.39,-6.39,-6.39,-6.39,-6.39,-6.39,-6.39,-6.37,-6.37,-6.37,-6.37,-6.37,-6.37,-6.37,-6.37,
];
const b7 = [
  -6.52,-6.52,-6.52,-6.52,-6.52,-6.52,-6.52,-6.52,-6.52,-6.52,-6.52,-6.52,-6.52,-6.52,-6.52,-6.52,
  -6.51,-6.51,-6.51,-6.51,-6.51,-6.51,-6.50,-6.50,-6.50,-6.50,-6.50,-6.50,-6.50,-6.50,-6.50,-6.50,
  -6.49,-6.49,-6.49,-6.49,-6.49,-6.49,-6.49,-6.49,-6.48,-6.48,-6.48,-6.48,-6.48,-6.48,-6.48,-6.48,
  -6.47,-6.47,-6.47,-6.47,-6.47,-6.47,-6.47,-6.47,-6.45,-6.45,-6.45,-6.45,-6.45,-6.45,-6.45,-6.45,
];
const b8 = [
  -6.63,-6.63,-6.63,-6.63,-6.63,-6.63,-6.63,-6.63,-6.63,-6.63,-6.63,-6.63,-6.63,-6.63,-6.63,-6.63,
  -6.62,-6.62,-6.62,-6.62,-6.62,-6.62,-6.61,-6.61,-6.61,-6.61,-6.61,-6.61,-6.61,-6.61,-6.61,-6.61,
  -6.60,-6.60,-6.60,-6.60,-6.60,-6.60,-6.60,-6.60,-6.59,-6.59,-6.59,-6.59,-6.59,-6.59,-6.59,-6.59,
  -6.58,-6.58,-6.58,-6.58,-6.58,-6.58,-6.58,-6.58,-6.56,-6.56,-6.56,-6.56,-6.56,-6.56,-6.56,-6.56,
];
const b9 = [
  -6.75,-6.75,-6.75,-6.75,-6.75,-6.75,-6.75,-6.75,-6.75,-6.75,-6.75,-6.75,-6.75,-6.75,-6.75,-6.75,
  -6.74,-6.74,-6.74,-6.74,-6.74,-6.74,-6.74,-6.74,-6.74,-6.74,-6.74,-6.74,-6.74,-6.74,-6.74,-6.74,
  -6.72,-6.72,-6.72,-6.72,-6.72,-6.72,-6.72,-6.72,-6.71,-6.71,-6.71,-6.71,-6.71,-6.71,-6.71,-6.71,
  -6.70,-6.70,-6.70,-6.70,-6.70,-6.70,-6.70,-6.70,-6.67,-6.67,-6.67,-6.67,-6.67,-6.67,-6.67,-6.67,
];
const bottomEdge = [
  -6.86,-6.86,-6.85,-6.85,-6.85,-6.85,-6.85,-6.84,-6.84,-6.84,-6.835,-6.835,-6.835,-6.83,-6.83,-6.83,
  -6.83,-6.82,-6.82,-6.82,-6.81,-6.81,-6.81,-6.80,-6.80,-6.80,-6.80,-6.80,-6.79,-6.79,-6.79,-6.79,
  -6.79,-6.79,-6.79,-6.79,-6.78,-6.78,-6.78,-6.78,-6.78,-6.78,-6.78,-6.78,-6.775,-6.775,-6.775,-6.775,
  -6.77,-6.77,-6.77,-6.77,-6.77,-6.77,-6.77,-6.77,-6.77,-6.77,-6.77,-6.77,-6.77,-6.77,-6.77,-6.77,
];

// Breaks in each column's stack of eigenvalues, top to bottom: the lowest level above the
// break and the highest level below it, either as two arrays or as a centre and an energy span.
const pair = (up, down) => ({ up, down, span: null });
const notch = (line, span) => ({ up: line, down: line, span });
const breaks = [
  pair(t1Bot, t2Top),
  notch(n1, .09), notch(n2, .09), notch(n3, .13), notch(n4, .07), notch(n5, .08),
  notch(n6, .10), notch(n7, .09), notch(n8, .08), notch(n9, .08), notch(n10, .09),
  notch(n10b, .11), notch(n11, .13), notch(n12, .18), notch(n12m, .13), notch(n12b, .09),
  pair(g1Bot, lobeTop), pair(lobeBot, c3Top), notch(n14, .07),
  pair(eA, eB), pair(eB, eC), notch(n15, .11), notch(n18, .08),
  pair(stemEnd, circleTop), pair(eAp, eBp), pair(gZUp, gZDown), pair(gNUp, gNLow),
  pair(eK, eM), pair(eC2, eD2),
  notch(l1527, .09), notch(l1578, .07), notch(l1687, .08), notch(l1740, .07),
  notch(l1769, .06), notch(l1820, .10), notch(l1835, .10),
  notch(b1, .14), notch(b2, .08), notch(b3, .08), notch(b4, .13), notch(b5, .09),
  notch(b6, .09), notch(b7, .08), notch(b8, .11), notch(b9, .04),
];

function buildPoints() {
  const pts: { x: number; y: number }[] = [];
  bValues.forEach((x, k) => {
    const i = k <= 63 ? k : 126 - k;
    let prev = t1Top[i];
    for (const b of breaks) {
      const up = b.up[i];
      const down = b.down[i];
      if (up === null || down === null) continue;
      const upper = b.span === null ? up : up + b.span / 2;
      const lower = b.span === null ? down : down - b.span / 2;
      pts.push({ x, y: prev }, { x, y: upper }, { x, y: NaN });
      prev = lower;
    }
    pts.push({ x, y: prev }, { x, y: bottomEdge[i] }, { x, y: NaN });
  });
  return pts;
}

const FONT = "'Liberation Sans', Arial, sans-serif";
const SIZE = 160;
const TITLE_SIZE = 159;
const TICK = 33;

const framePlugin = {
  id: "frame",
  beforeDatasetsDraw(chart) {
    const { ctx, chartArea: a, scales } = chart;
    ctx.save();
    ctx.strokeStyle = "#000";
    ctx.lineWidth = 1;
    ctx.beginPath();
    ctx.rect(a.left, a.top, a.right - a.left, a.bottom - a.top);
    for (const t of xTicks) {
      const x = scales.x.getPixelForValue(t);
      ctx.moveTo(x, a.bottom); ctx.lineTo(x, a.bottom - TICK);
      ctx.moveTo(x, a.top); ctx.lineTo(x, a.top + TICK);
    }
    for (const t of yTicks) {
      const y = scales.y.getPixelForValue(t);
      ctx.moveTo(a.left, y); ctx.lineTo(a.left + TICK, y);
      ctx.moveTo(a.right, y); ctx.lineTo(a.right - TICK, y);
    }
    ctx.stroke();
    ctx.restore();
  },
  afterDatasetsDraw(chart) {
    const { ctx, chartArea: a } = chart;
    ctx.save();
    ctx.strokeStyle = "#000";
    ctx.lineWidth = 1;
    ctx.beginPath();
    ctx.moveTo(a.left, a.top);
    ctx.lineTo(a.left, a.bottom);
    ctx.stroke();
    ctx.fillStyle = "#000";
    ctx.font = `${SIZE}px ${FONT}`;
    ctx.textAlign = "center";
    ctx.textBaseline = "middle";
    ctx.fillText(yLabel, 94, 1241);
    ctx.restore();
  },
};

export default function App() {
  const ref = useRef<HTMLCanvasElement>(null);
  useEffect(() => {
    document.body.style.margin = "0";
    const chart = new Chart(ref.current, {
      type: "scatter",
      plugins: [framePlugin],
      data: {
        datasets: [
          {
            data: buildPoints(),
            showLine: true,
            spanGaps: false,
            pointRadius: 0,
            pointHoverRadius: 0,
            borderColor: "#0000ff",
            borderWidth: 19,
            borderCapStyle: "round",
            borderJoinStyle: "round",
            clip: false,
          },
        ],
      },
      options: {
        responsive: false,
        animation: false,
        events: [],
        layout: { padding: { left: 0, right: 160, top: 0, bottom: 0 } },
        plugins: {
          legend: { display: false },
          tooltip: { enabled: false },
          title: {
            display: true,
            text: chartTitle,
            color: "#000",
            fullSize: false,
            font: { family: FONT, size: TITLE_SIZE, weight: "normal", lineHeight: 1 },
            padding: { top: 99, bottom: 135 },
          },
        },
        scales: {
          x: {
            type: "linear",
            min: 0,
            max: 6.3,
            grid: { display: false },
            border: { display: false },
            afterBuildTicks: (s) => { s.ticks = xTicks.map((value) => ({ value })); },
            afterFit: (s) => { s.height = 344; },
            ticks: {
              color: "#000",
              font: { family: FONT, size: SIZE },
              padding: 21,
              maxRotation: 0,
              autoSkip: false,
            },
            title: {
              display: true,
              text: xLabel,
              color: "#000",
              font: { family: FONT, size: SIZE, lineHeight: 1 },
              padding: { top: 0, bottom: -18 },
            },
          },
          y: {
            type: "linear",
            min: -7,
            max: 7,
            grid: { display: false },
            border: { display: false },
            afterBuildTicks: (s) => { s.ticks = yTicks.map((value) => ({ value })); },
            afterFit: (s) => { s.width = 346.5; },
            ticks: {
              color: "#000",
              font: { family: FONT, size: SIZE },
              padding: 44,
              labelOffset: 16,
              autoSkip: false,
            },
          },
        },
      },
    });
    return () => chart.destroy();
  }, []);
  return (
    <canvas
      ref={ref}
      width={3200}
      height={2400}
      style={{ position: "absolute", left: 0, top: 0, width: 3200, height: 2400 }}
    />
  );
}
